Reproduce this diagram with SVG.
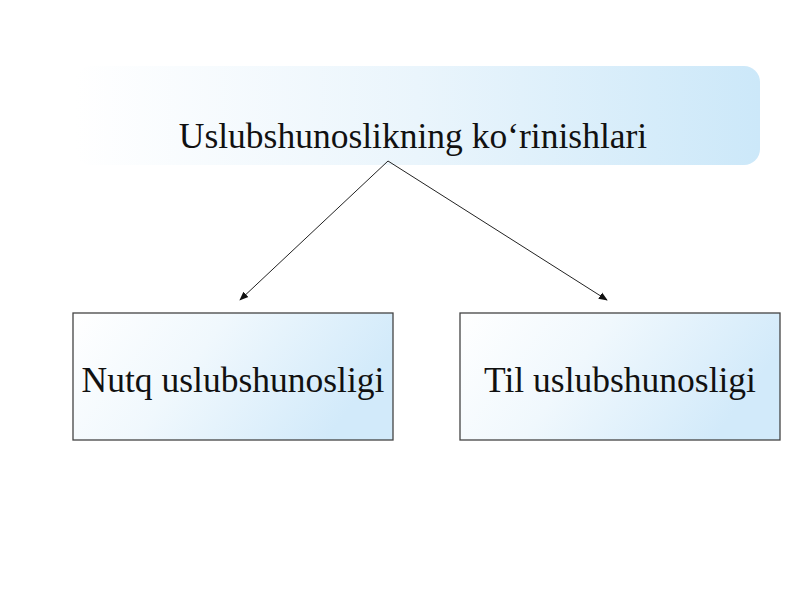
<svg xmlns="http://www.w3.org/2000/svg" width="800" height="600" viewBox="0 0 800 600">
<style>
.t{font-family:"Liberation Serif","Times New Roman",serif;font-size:35.5px;fill:#111;text-anchor:middle}
.box{fill:url(#bg);stroke:#444;stroke-width:1.3}
.con{stroke:#222;stroke-width:1;fill:none;marker-end:url(#ah)}
</style>
<defs>
<linearGradient id="bg" x1="0" y1="0" x2="1" y2="0.3">
<stop offset="0" stop-color="#ffffff"/>
<stop offset="0.45" stop-color="#f0f8fd"/>
<stop offset="1" stop-color="#d2eafa"/>
</linearGradient>
<linearGradient id="ban" x1="0" y1="0" x2="1" y2="0">
<stop offset="0" stop-color="#ffffff"/>
<stop offset="0.5" stop-color="#eaf5fc"/>
<stop offset="1" stop-color="#cce8f9"/>
</linearGradient>
<marker id="ah" viewBox="0 0 10 10" refX="9" refY="5" markerWidth="9" markerHeight="9" orient="auto" markerUnits="userSpaceOnUse">
<path d="M0,1 L10,5 L0,9 Z" fill="#111"/>
</marker>
</defs>
<rect width="800" height="600" fill="#fff"/>
<g id="top">
<rect x="75" y="66" width="685" height="99" rx="16" fill="url(#ban)"/>
<text class="t" x="413" y="148">Uslubshunoslikning ko‘rinishlari</text>
</g>
<g id="connectors">
<line class="con" x1="388" y1="161" x2="240" y2="300"/>
<line class="con" x1="388" y1="161" x2="607" y2="300"/>
</g>
<g id="nutq">
<rect class="box" x="73" y="313" width="320" height="127"/>
<text class="t" x="233" y="392">Nutq uslubshunosligi</text>
</g>
<g id="til">
<rect class="box" x="460" y="313" width="320" height="127"/>
<text class="t" x="620" y="392">Til uslubshunosligi</text>
</g>
</svg>
